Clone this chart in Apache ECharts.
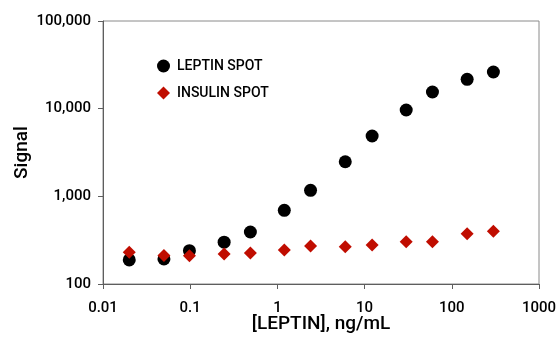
<!DOCTYPE html>
<html>
<head>
<meta charset="utf-8">
<script src="https://cdn.jsdelivr.net/npm/echarts@6/dist/echarts.min.js"></script>
<style>
  html, body { margin: 0; padding: 0; background: #fff; }
  #chart { width: 556px; height: 351px; }
</style>
</head>
<body>
<div id="chart"></div>
<script>
// leptin concentration, ng/mL
const concentrations = [0.02, 0.05, 0.098, 0.245, 0.49, 1.2, 2.4, 6, 12.2, 30, 60, 150, 300]
const leptinSignal = [188, 193, 240, 300, 392, 693, 1170, 2480, 4880, 9660, 15500, 21600, 26200]
const insulinSignal = [230, 212, 210, 220, 226, 244, 271, 266, 279, 304, 304, 375, 399]
const xTickLabels = ['0.01', '0.1', '1', '10', '100', '1000']
const yTickLabels = ['100', '1,000', '10,000', '100,000']

// no condensed face is installed, Roboto is the narrowest one
const font = 'Roboto'
const weight = 500
const axisColor = '#5e5e5e'

const chart = echarts.init(document.getElementById('chart'))

const pair = (ys) => concentrations.map((x, i) => [x, ys[i]])

const option = {
  animation: false,
  textStyle: { fontFamily: font },
  grid: {
    left: 103,
    right: 17,
    top: 21,
    bottom: 67,
    outerBoundsMode: 'none',
    containLabel: false,
    show: true,
    borderColor: '#8a8a8a',
    borderWidth: 1,
  },
  legend: {
    orient: 'vertical',
    left: 152,
    top: 54,
    itemWidth: 13,
    itemHeight: 13,
    itemGap: 13,
    textStyle: { fontFamily: font, fontSize: 14, fontWeight: weight, color: '#000', padding: [0, 0, 0, 2] },
    data: [
      { name: 'LEPTIN SPOT', icon: 'circle' },
      { name: 'INSULIN SPOT', icon: 'diamond' },
    ],
  },
  xAxis: {
    type: 'log',
    logBase: 10,
    min: 0.01,
    max: 1000,
    name: '[LEPTIN], ng/mL',
    nameLocation: 'middle',
    nameGap: 31,
    nameMoveOverlap: false,
    nameTextStyle: { fontFamily: font, fontSize: 19, fontWeight: weight, color: '#000' },
    splitLine: { show: false },
    axisLine: { lineStyle: { color: axisColor, width: 1 } },
    axisTick: { inside: false, length: 5, lineStyle: { color: axisColor } },
    axisLabel: {
      margin: 24,
      verticalAlign: 'middle',
      fontSize: 15,
      fontWeight: weight,
      color: '#000',
      fontFamily: font,
      formatter: (v, i) => xTickLabels[i],
    },
  },
  yAxis: {
    type: 'log',
    logBase: 10,
    min: 100,
    max: 100000,
    name: 'Signal',
    nameLocation: 'middle',
    nameGap: 71,
    nameMoveOverlap: false,
    nameTextStyle: { fontFamily: font, fontSize: 19, fontWeight: weight, color: '#000' },
    splitLine: { show: false },
    axisLine: { lineStyle: { color: axisColor, width: 1 } },
    axisTick: { inside: false, length: 5, lineStyle: { color: axisColor } },
    axisLabel: {
      margin: 12,
      fontSize: 15,
      fontWeight: weight,
      color: '#000',
      fontFamily: font,
      formatter: (v, i) => yTickLabels[i],
    },
  },
  series: [
    {
      name: 'LEPTIN SPOT',
      type: 'scatter',
      symbol: 'circle',
      symbolSize: 13,
      itemStyle: { color: '#000', opacity: 1 },
      data: pair(leptinSignal),
    },
    {
      name: 'INSULIN SPOT',
      type: 'scatter',
      symbol: 'diamond',
      symbolSize: 13,
      itemStyle: { color: '#c00d00', opacity: 1 },
      data: pair(insulinSignal),
    },
  ],
}

chart.setOption(option)
</script>
</body>
</html>
